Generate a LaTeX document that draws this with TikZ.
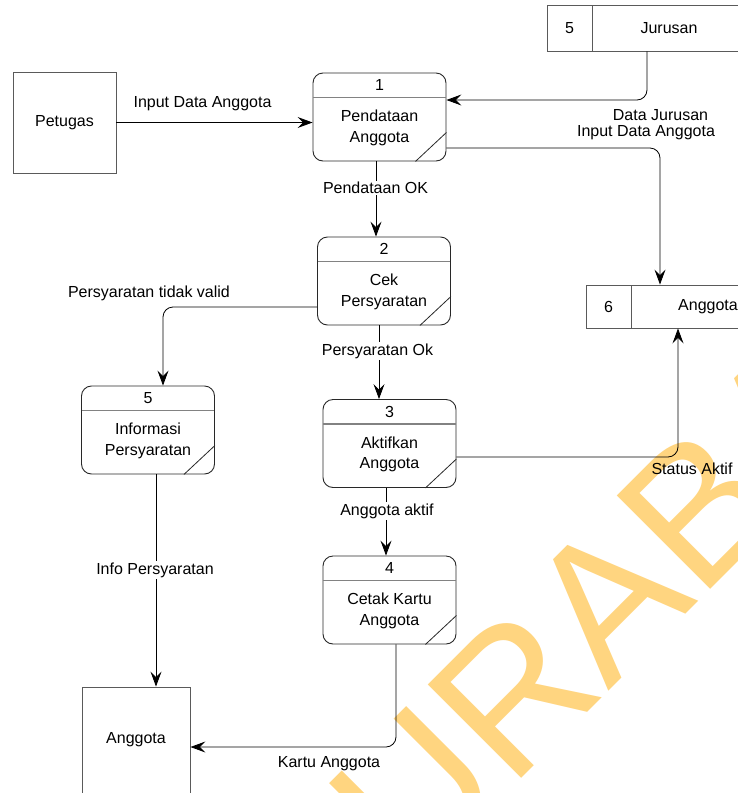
\documentclass[tikz,border=0pt]{standalone}
\usepackage{fontspec}
\setmainfont{Liberation Sans}
\newfontfamily\wmfamily{Liberation Sans}
\usetikzlibrary{arrows.meta,calc}

\definecolor{wmc}{RGB}{255,213,128}
\definecolor{boxline}{RGB}{40,40,40}
\definecolor{storeline}{RGB}{90,90,90}
\definecolor{divline}{RGB}{130,130,130}

\tikzset{
  >={Stealth[length=15pt,width=11pt,inset=5.5pt]},
  every node/.style={font=\fontsize{16}{20.5}\selectfont},
  proc/.style={draw=boxline, line width=0.9pt, rounded corners=10pt,
    minimum width=133pt, minimum height=88pt, inner sep=0pt},
  ptext/.style={align=center, inner sep=0pt},
  entity/.style={draw=storeline, line width=0.9pt, inner sep=0pt},
  store/.style={draw=storeline, line width=0.9pt, inner sep=0pt},
  flow/.style={->, draw=black, line width=0.8pt, rounded corners=10pt},
  flowlabel/.style={fill=white, inner sep=1.5pt},
  freelabel/.style={inner sep=1pt},
}

% process bubble: name, centre, number, title
\newcommand{\dfdproc}[4]{%
  \node[proc] (#1) at (#2) {};
  \node[ptext] (#1n) at ($(#1.north)+(0,12.5)$) {#3};
  \node[ptext] (#1t) at ($(#1.center)+(0,11)$) {#4};
  \draw[divline, line width=1.4pt] ($(#1.north west)+(0.5,25)$) -- ($(#1.north east)+(-0.5,25)$);
  \draw[boxline, line width=0.8pt] ($(#1.south east)+(-31,0)$) -- ($(#1.south east)+(0,-29)$);
}

\begin{document}
\begin{tikzpicture}[x=1pt,y=-1pt]
\useasboundingbox (0,0) rectangle (738,793);
\clip (0,0) rectangle (738,793);
\fill[white] (0,0) rectangle (738,793);

% watermark lettering behind the diagram
\node[rotate=45, anchor=base west, inner sep=0pt, text=wmc,
  font=\wmfamily\fontsize{192}{192}\selectfont] (wm) at (322,978) {SURABAYA};

% external entities
\node[entity, minimum width=103pt, minimum height=101pt] (pet) at (64.5,122.5) {Petugas};
\node[entity, minimum width=108pt, minimum height=106pt] (ang) at (136,740) {Anggota};

% data stores
\node[store, minimum width=199pt, minimum height=46pt] (s5) at (646.5,28) {};
\node (s5n) at (569.5,28) {5};
\node (s5t) at (669,28) {Jurusan};
\draw[storeline, line width=0.9pt] (592,5) -- (592,51);

\node[store, minimum width=199pt, minimum height=43pt] (s6) at (685.5,306.5) {};
\node (s6n) at (608.5,306.5) {6};
\node (s6t) at (708,306.5) {Anggota};
\draw[storeline, line width=0.9pt] (631,285) -- (631,328);

% processes
\dfdproc{p1}{379.5,117}{1}{Pendataan\\Anggota}
\dfdproc{p2}{384,281}{2}{Cek\\Persyaratan}
\dfdproc{p5}{148,430}{5}{Informasi\\Persyaratan}
\dfdproc{p3}{389.5,443.5}{3}{Aktifkan\\Anggota}
\dfdproc{p4}{389.5,600}{4}{Cetak Kartu\\Anggota}

% bend points
\coordinate (j1) at (647,100);
\coordinate (j2) at (660,148);
\coordinate (j3) at (163,307);
\coordinate (j4) at (678,457);
\coordinate (j5) at (396,747);

% data flows
\draw[flow] (pet.east) -- (pet.east -| p1.west);
\node[freelabel] (l1) at (202.5,104) {Input Data Anggota};

\draw[flow] (s5.south -| j1) -- (j1) -- (j1 -| p1.east);
\node[freelabel] (l2) at (660.5,115) {Data Jurusan};

\draw[flow] (j2 -| p1.east) -- (j2) -- (j2 |- s6.north);
\node[freelabel] (l3) at (646,133) {Input Data Anggota};

\draw[flow] (p1.south -| 376,0) -- (p2.north -| 376,0);
\node[flowlabel] (l4) at (375.5,188) {Pendataan OK};

\draw[flow] (j3 -| p2.west) -- (j3) -- (j3 |- p5.north);
\node[freelabel] (l5) at (149,293) {Persyaratan tidak valid};

\draw[flow] (p2.south -| 379,0) -- (p3.north -| 379,0);
\node[flowlabel] (l6) at (377.5,351) {Persyaratan Ok};

\draw[flow] (j4 -| p3.east) -- (j4) -- (j4 |- s6.south);
\node[freelabel] (l7) at (692,469) {Status Aktif};

\draw[flow] (p3.south -| 386,0) -- (p4.north -| 386,0);
\node[flowlabel] (l8) at (387,511) {Anggota aktif};

\draw[flow] (p4.south -| j5) -- (j5) -- (j5 -| ang.east);
\node[freelabel] (l9) at (329,764) {Kartu Anggota};

\draw[flow] (p5.south -| 156,0) -- (ang.north -| 156,0);
\node[flowlabel] (l10) at (155,570) {Info Persyaratan};
\end{tikzpicture}
\end{document}
